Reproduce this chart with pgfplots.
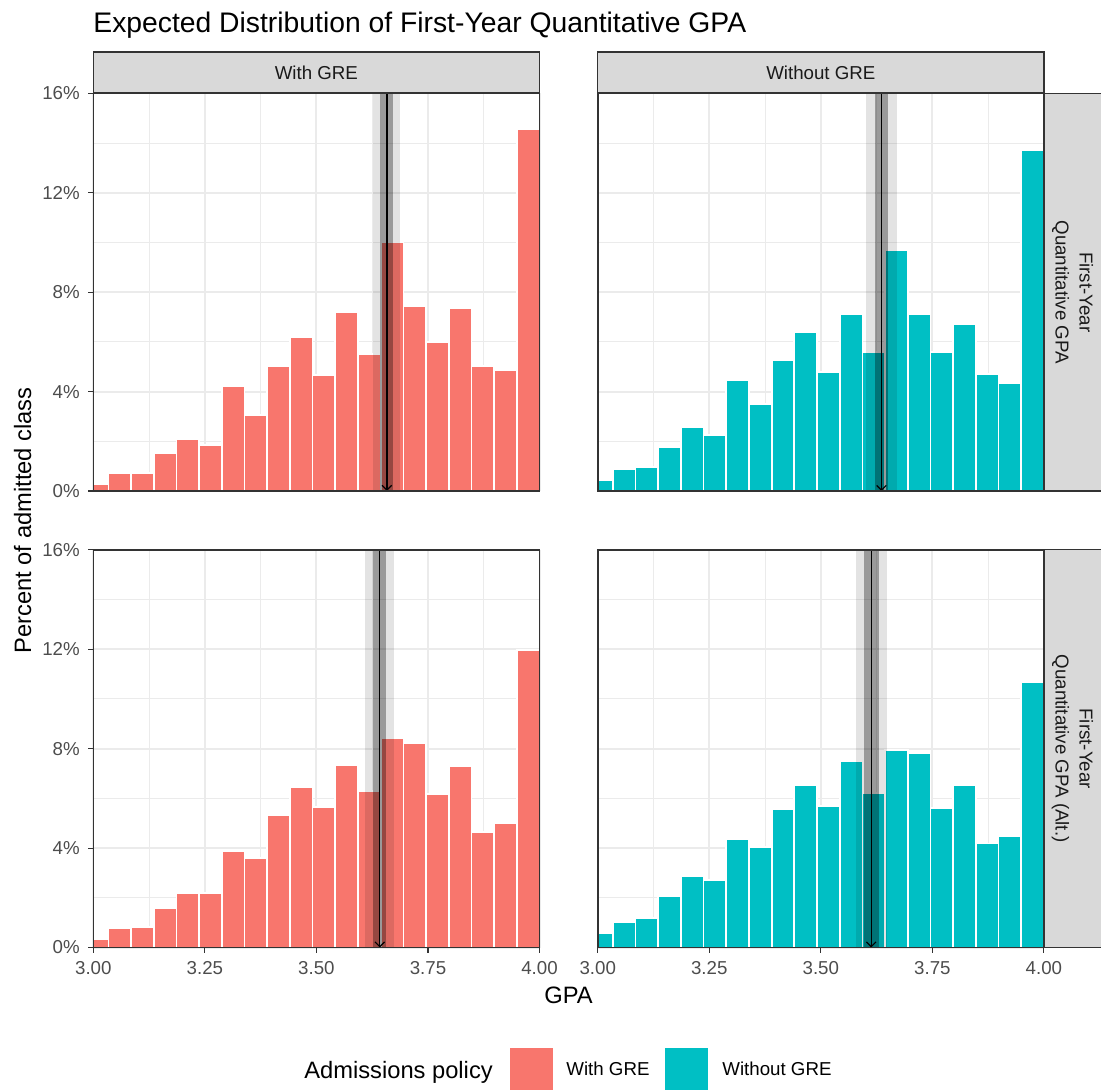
\documentclass[border=0pt]{standalone}
\usepackage{fontspec}
\setmainfont{Liberation Sans}
\usepackage{pgfplots}
\usepackage{pgfplotstable}
\pgfplotsset{compat=1.18}
\usetikzlibrary{arrows.meta}

\definecolor{withgre}{HTML}{F8766D}
\definecolor{nogre}{HTML}{00BFC4}
\definecolor{stripbg}{HTML}{D9D9D9}
\definecolor{border}{HTML}{333333}
\definecolor{gridmaj}{HTML}{EBEBEB}
\definecolor{ticktext}{HTML}{4D4D4D}
\definecolor{striptext}{HTML}{1A1A1A}

\newcommand\ticksize{\fontsize{9.35pt}{12pt}\selectfont}
\newcommand\labsize{\fontsize{11.85pt}{14pt}\selectfont}
\newcommand\mainsize{\fontsize{14.15pt}{17pt}\selectfont}

% bin centres and share of the admitted class (%) per panel
% tl/tr: First-Year Quantitative GPA, with / without GRE
% bl/br: First-Year Quantitative GPA (Alt.), with / without GRE
\pgfplotstableread{
x      tl    tr    bl    br
3.0084 0.28  0.44  0.34  0.58
3.0593 0.72  0.89  0.78  1.02
3.1101 0.72  0.97  0.82  1.18
3.1610 1.53  1.77  1.58  2.07
3.2118 2.09  2.58  2.19  2.87
3.2627 1.85  2.25  2.19  2.71
3.3135 4.22  4.47  3.88  4.36
3.3644 3.06  3.50  3.60  4.04
3.4153 5.03  5.27  5.33  5.57
3.4661 6.20  6.40  6.46  6.54
3.5170 4.67  4.79  5.65  5.69
3.5678 7.20  7.12  7.34  7.50
3.6187 5.51  5.59  6.30  6.21
3.6695 10.02 9.70  8.43  7.95
3.7204 7.44  7.12  8.23  7.83
3.7712 6.00  5.59  6.17  5.62
3.8221 7.36  6.72  7.30  6.54
3.8729 5.03  4.71  4.64  4.19
3.9238 4.87  4.35  5.01  4.47
3.9746 14.57 13.72 11.97 10.68
}\gpa

\pgfplotsset{
  panel/.style={
    scale only axis, width=223.1pt, height=198.85pt,
    anchor=south west,
    xmin=3, xmax=4, ymin=0, ymax=16,
    axis line style={draw=none},
    xtick={3,3.25,3.5,3.75,4}, minor xtick={3.125,3.375,3.625,3.875},
    ytick={0,4,8,12,16}, minor ytick={2,6,10,14},
    grid=both,
    major grid style={draw=gridmaj, line width=1pt},
    minor grid style={draw=gridmaj, line width=0.5pt},
    tick align=outside, tick pos=left,
    major tick length=2.6pt, minor tick length=0pt,
    tick style={color=border, line width=0.55pt},
    xticklabels={}, yticklabels={},
    clip mode=individual,
  },
  xlabs/.style={
    xticklabels={3.00,3.25,3.50,3.75,4.00},
    xticklabel style={font=\ticksize, text=ticktext, anchor=north, inner sep=0pt, yshift=-4pt},
  },
  ylabs/.style={
    yticklabels={0\%,4\%,8\%,12\%,16\%},
    yticklabel style={font=\ticksize, text=ticktext, anchor=east, inner sep=0pt, xshift=-4pt},
  },
  noxticks/.style={xtick style={draw=none}},
  noyticks/.style={ytick style={draw=none}},
  bars/.style={ybar, bar width=0.05085, bar shift=0pt, draw=white, line width=0.85pt, mark=none},
  lightband/.style={draw=none, fill=black, fill opacity=0.11, mark=none},
  darkband/.style={draw=none, fill=black, fill opacity=0.32, mark=none},
  meanline/.style={black, line width=0.6pt, mark=none, -{Straight Barb[length=2.4pt,width=4.8pt]}},
}

\begin{document}
\begin{tikzpicture}
% First-Year Quantitative GPA, with GRE
\begin{axis}[panel, ylabs, noxticks, at={(46.65pt,-245.5pt)}]
  \addplot[bars, fill=withgre] table[x=x, y=tl] {\gpa};
  \addplot[lightband] coordinates {(3.626,0) (3.687,0) (3.687,16) (3.626,16)} -- cycle;
  \addplot[darkband] coordinates {(3.642,0) (3.671,0) (3.671,16) (3.642,16)} -- cycle;
  \addplot[meanline] coordinates {(3.658,16) (3.658,0)};
\end{axis}
% First-Year Quantitative GPA, without GRE
\begin{axis}[panel, noxticks, noyticks, at={(298.85pt,-245.5pt)}]
  \addplot[bars, fill=nogre] table[x=x, y=tr] {\gpa};
  \addplot[lightband] coordinates {(3.601,0) (3.670,0) (3.670,16) (3.601,16)} -- cycle;
  \addplot[darkband] coordinates {(3.621,0) (3.651,0) (3.651,16) (3.621,16)} -- cycle;
  \addplot[meanline] coordinates {(3.636,16) (3.636,0)};
\end{axis}
% First-Year Quantitative GPA (Alt.), with GRE
\begin{axis}[panel, ylabs, xlabs, at={(46.65pt,-473.75pt)}]
  \addplot[bars, fill=withgre] table[x=x, y=bl] {\gpa};
  \addplot[lightband] coordinates {(3.609,0) (3.675,0) (3.675,16) (3.609,16)} -- cycle;
  \addplot[darkband] coordinates {(3.627,0) (3.657,0) (3.657,16) (3.627,16)} -- cycle;
  \addplot[meanline] coordinates {(3.642,16) (3.642,0)};
\end{axis}
% First-Year Quantitative GPA (Alt.), without GRE
\begin{axis}[panel, xlabs, noyticks, at={(298.85pt,-473.75pt)}]
  \addplot[bars, fill=nogre] table[x=x, y=br] {\gpa};
  \addplot[lightband] coordinates {(3.579,0) (3.648,0) (3.648,16) (3.579,16)} -- cycle;
  \addplot[darkband] coordinates {(3.596,0) (3.630,0) (3.630,16) (3.596,16)} -- cycle;
  \addplot[meanline] coordinates {(3.613,16) (3.613,0)};
\end{axis}

\begin{scope}[x=0.5pt, y=-0.5pt]
  % facet strips
  \foreach \l/\r/\t in {93.3/539.5/With GRE, 597.7/1043.9/Without GRE}{
    \filldraw[fill=stripbg, draw=border, line width=0.6pt] (\l,52) rectangle (\r,93.3);
    \node[font=\ticksize, text=striptext] at ({(\l+\r)/2},72.6) {\t};
  }
  \filldraw[fill=stripbg, draw=border, line width=0.6pt] (1043.9,93.3) rectangle (1103,491);
  \filldraw[fill=stripbg, draw=border, line width=0.6pt] (1043.9,549.8) rectangle (1103,947.5);
  \node[rotate=-90, align=center, font=\ticksize, text=striptext, inner sep=0pt]
    at (1072.5,292.2) {First-Year\\Quantitative GPA};
  \node[rotate=-90, align=center, font=\ticksize, text=striptext, inner sep=0pt]
    at (1072.5,748.7) {First-Year\\Quantitative GPA (Alt.)};
  % panel borders
  \foreach \l/\r in {93.3/539.5, 597.7/1043.9}{
    \draw[border, line width=0.8pt] (\l,93.3) rectangle (\r,491);
    \draw[border, line width=0.8pt] (\l,549.8) rectangle (\r,947.5);
  }
  % titles
  \node[anchor=base west, font=\mainsize, inner sep=0pt] at (93,33) {Expected Distribution of First-Year Quantitative GPA};
  \node[anchor=base, font=\labsize, inner sep=0pt] at (568.6,1003) {GPA};
  \node[anchor=base, rotate=90, font=\labsize, inner sep=0pt] at (31,520.4) {Percent of admitted class};
  % legend
  \node[anchor=base west, font=\labsize, inner sep=0pt] at (304,1078) {Admissions policy};
  \fill[withgre] (509.6,1048) rectangle (553,1091);
  \node[anchor=base west, font=\ticksize, inner sep=0pt] at (566,1075) {With GRE};
  \fill[nogre] (665,1048) rectangle (708,1091);
  \node[anchor=base west, font=\ticksize, inner sep=0pt] at (722,1075) {Without GRE};
\end{scope}

\pgfresetboundingbox
\useasboundingbox (0pt,0pt) rectangle (550.5pt,-545pt);
\end{tikzpicture}
\end{document}
